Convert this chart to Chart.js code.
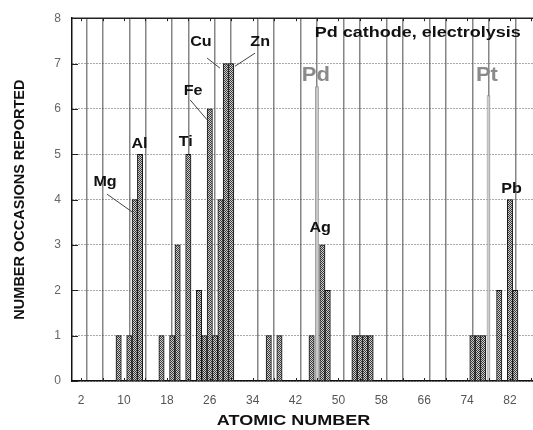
<!DOCTYPE html>
<html>
<head>
<meta charset="utf-8">
<script src="https://cdn.jsdelivr.net/npm/chart.js@4.4.1/dist/chart.umd.min.js"></script>
<style>
  html, body { margin: 0; padding: 0; background: #fff; }
  canvas { display: block; }
</style>
</head>
<body>
<canvas id="myChart" width="533" height="430"></canvas>
<script>
// atomic numbers of the elements found and how many times each was reported
const atomicNumbers = [9, 11, 12, 13, 17, 19, 20, 22, 24, 25, 26, 27, 28, 29, 30,
  37, 39, 45, 47, 48, 53, 54, 55, 56, 75, 76, 77, 80, 82, 83];
const occasions = [1, 1, 4, 5, 1, 1, 3, 5, 2, 1, 6, 1, 4, 7, 7,
  1, 1, 1, 3, 2, 1, 1, 1, 1, 1, 1, 1, 2, 4, 2];

// cathode metals (marker bars)
const cathodeNumbers = [46, 78];
const cathodeHeights = [6.5, 6.3];

const xTickLabels = [2, 10, 18, 26, 34, 42, 50, 58, 66, 74, 82];
const xGridLines = [4, 8, 12, 16, 20, 24, 28, 32, 36, 40, 44, 48, 52, 56, 60, 64, 68, 72, 76, 80, 84];
const xMinorTicks = [2, 6, 10, 14, 18, 22, 26, 30, 34, 38, 42, 46, 50, 54, 58, 62, 66, 70, 74, 78, 82, 86];
const yTicks = [0, 1, 2, 3, 4, 5, 6, 7, 8];

// element names written on the chart (placed in axis units)
const notes = [
  { t: 'Mg', x: 6.47, y: 4.38 },
  { t: 'Al', x: 12.9, y: 5.22 },
  { t: 'Ti', x: 21.5, y: 5.27 },
  { t: 'Fe', x: 22.9, y: 6.39 },
  { t: 'Cu', x: 24.35, y: 7.47 },
  { t: 'Zn', x: 35.4, y: 7.47 },
  { t: 'Ag', x: 46.6, y: 3.38 },
  { t: 'Pb', x: 82.3, y: 4.24 },
];
const bigNotes = [
  { t: 'Pd', x: 45.8, y: 6.74 },
  { t: 'Pt', x: 77.7, y: 6.74 },
];
const leaders = [
  [6.84, 4.12, 11.5, 3.73],
  [22.33, 6.2, 25.5, 5.76],
  [25.5, 7.12, 27.9, 6.9],
  [34.45, 7.23, 30.7, 6.94],
];

const ctx = document.getElementById('myChart');

// stippled gray fill for the bars
const pat = document.createElement('canvas');
pat.width = 2;
pat.height = 2;
const pc = pat.getContext('2d');
pc.fillStyle = '#cfcfcf';
pc.fillRect(0, 0, 2, 2);
pc.fillStyle = '#3a3a3a';
pc.fillRect(0, 0, 1, 1);
pc.fillRect(1, 1, 1, 1);
const barFill = ctx.getContext('2d').createPattern(pat, 'repeat');

Chart.defaults.font.family = "'Liberation Sans', Arial, sans-serif";

const drawText = (c, text, px, py, font, color, sx) => {
  c.save();
  c.font = font;
  c.fillStyle = color;
  c.textAlign = 'center';
  c.textBaseline = 'middle';
  c.translate(px, py);
  c.scale(sx, 1);
  c.fillText(text, 0, 0);
  c.restore();
};

const decorations = {
  id: 'decorations',
  afterDraw(chart) {
    const { ctx: c, chartArea: a, scales: { x, y } } = chart;
    c.save();
    // top frame
    c.strokeStyle = '#222';
    c.lineWidth = 1.5;
    c.beginPath();
    c.moveTo(a.left, a.top);
    c.lineTo(a.right, a.top);
    c.stroke();

    // small inner tick marks
    c.lineWidth = 1;
    c.strokeStyle = '#222';
    c.beginPath();
    xMinorTicks.forEach((v) => {
      const px = Math.round(x.getPixelForValue(v)) + 0.5;
      c.moveTo(px, a.bottom);
      c.lineTo(px, a.bottom - 3);
      c.moveTo(px, a.top);
      c.lineTo(px, a.top + 3);
    });
    yTicks.forEach((v) => {
      const py = Math.round(y.getPixelForValue(v)) + 0.5;
      c.moveTo(a.left, py);
      c.lineTo(a.left + 6, py);
    });
    c.stroke();

    // leader lines
    c.strokeStyle = '#444';
    c.lineWidth = 1;
    c.beginPath();
    leaders.forEach((l) => {
      c.moveTo(x.getPixelForValue(l[0]), y.getPixelForValue(l[1]));
      c.lineTo(x.getPixelForValue(l[2]), y.getPixelForValue(l[3]));
    });
    c.stroke();
    c.restore();

    notes.forEach((n) => {
      drawText(c, n.t, x.getPixelForValue(n.x), y.getPixelForValue(n.y),
        'bold 14px "Liberation Sans", Arial, sans-serif', '#111', 1.15);
    });
    bigNotes.forEach((n) => {
      drawText(c, n.t, x.getPixelForValue(n.x), y.getPixelForValue(n.y),
        'bold 20px "Liberation Sans", Arial, sans-serif', '#8a8a8a', 1.1);
    });
    drawText(c, 'Pd cathode, electrolysis', x.getPixelForValue(64.8), y.getPixelForValue(7.67),
      'bold 15px "Liberation Sans", Arial, sans-serif', '#111', 1.2);

    // x axis title
    drawText(c, 'ATOMIC NUMBER', a.left + 221.5, 421,
      'bold 15px "Liberation Sans", Arial, sans-serif', '#111', 1.2);
  },
};

const myChart = new Chart(ctx, {
  type: 'bar',
  data: {
    datasets: [
      {
        data: cathodeNumbers.map((z, i) => ({ x: z, y: cathodeHeights[i] })),
        backgroundColor: '#cdcdcd',
        borderColor: '#8f8f8f',
        borderWidth: 1,
        barPercentage: 0.7,
        categoryPercentage: 1,
        grouped: false,
      },
      {
        data: atomicNumbers.map((z, i) => ({ x: z, y: occasions[i] })),
        backgroundColor: barFill,
        borderColor: '#111',
        borderWidth: 1,
        barPercentage: 1,
        categoryPercentage: 1,
        grouped: false,
      },
    ],
  },
  plugins: [decorations],
  options: {
    responsive: false,
    animation: false,
    layout: {
      padding: { top: 15, right: 0, bottom: 0, left: 0 },
    },
    plugins: {
      legend: { display: false },
      tooltip: { enabled: false },
    },
    scales: {
      x: {
        type: 'linear',
        min: 0.3,
        max: 86.3,
        offset: false,
        afterBuildTicks: (scale) => {
          const vals = [...new Set([...xTickLabels, ...xGridLines])].sort((a, b) => a - b);
          scale.ticks = vals.map((v) => ({ value: v }));
        },
        afterFit: (scale) => {
          scale.height = 49;
        },
        ticks: {
          autoSkip: false,
          maxRotation: 0,
          padding: 12,
          color: '#555',
          font: { size: 12 },
          callback: (v) => (xTickLabels.includes(v) ? String(v) : ''),
        },
        grid: {
          drawTicks: false,
          lineWidth: 1.5,
          color: (c) => (c.tick && xGridLines.includes(c.tick.value) ? '#858585' : 'rgba(0,0,0,0)'),
        },
        border: {
          color: '#111',
          width: 1.5,
        },
      },
      y: {
        min: 0,
        max: 8,
        afterBuildTicks: (scale) => {
          scale.ticks = yTicks.map((v) => ({ value: v }));
        },
        afterFit: (scale) => {
          scale.width = 72;
        },
        ticks: {
          padding: 11,
          color: '#666',
          font: { size: 12 },
        },
        grid: {
          drawTicks: false,
          color: '#555',
          lineWidth: 1,
        },
        border: {
          color: '#111',
          width: 1.5,
          dash: [1, 2],
        },
        title: {
          display: true,
          text: 'NUMBER OCCASIONS REPORTED',
          color: '#111',
          font: { size: 14.5, weight: 'bold' },
          padding: { top: 11, bottom: 0 },
        },
      },
    },
  },
});
</script>
</body>
</html>
